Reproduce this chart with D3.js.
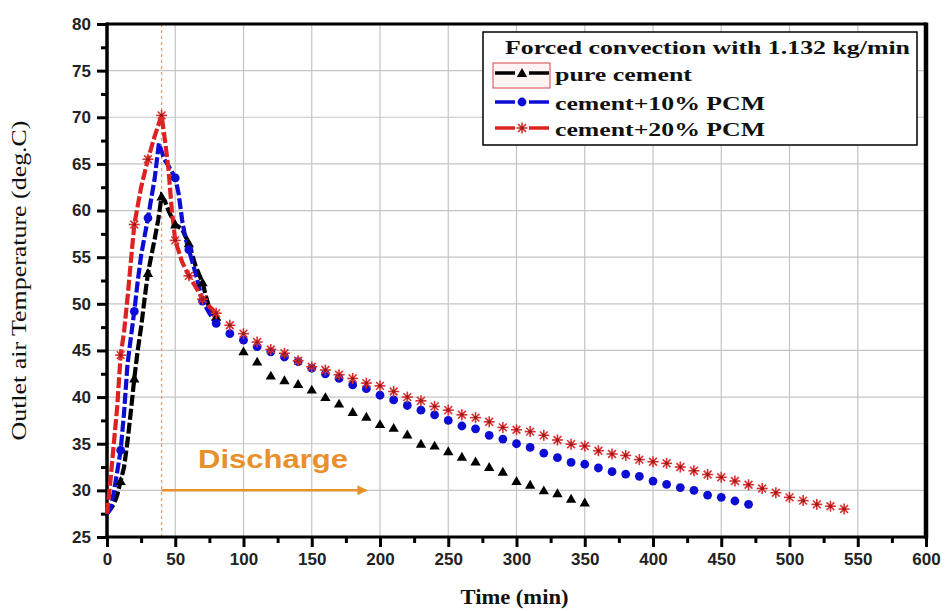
<!DOCTYPE html>
<html><head><meta charset="utf-8">
<script src="https://cdn.jsdelivr.net/npm/d3@7"></script>
<style>body{margin:0;background:#fff}</style>
</head><body>
<svg id="c" width="946" height="611"></svg>
<script>
// ---------- data ----------
const xTickValues = [0,50,100,150,200,250,300,350,400,450,500,550,600];
const xTickLabels = ["0","50","100","150","200","250","300","350","400","450","500","550","600"];
const yTickValues = [25,30,35,40,45,50,55,60,65,70,75,80];
const yTickLabels = ["25","30","35","40","45","50","55","60","65","70","75","80"];

const seriesNames = ["pure cement","cement+10% PCM","cement+20% PCM"];
const legendTitle = "Forced convection with 1.132 kg/min";

// charge / early part (drawn as thick dashed line)
const pureEarlyTime = [0,2.5,5,7.5,10,12.5,15,17.5,20,22.5,25,27.5,30,35,37.5,40,42.5,45,50,55,60,65,70,72.5,75,80];
const pureEarlyTemp = [27.5,28,28.5,29.5,31,32.5,35.2,38.5,42,45,47.5,50.5,53.3,57,59,61.5,61,60,58.5,58,56.5,54,52.3,50.8,49.5,48.6];
const blueEarlyTime = [0,2.5,5,7.5,10,12.5,15,17.5,20,22.5,25,30,35,38,42,45,50,52.5,55,57.5,60,65,70,75,80];
const blueEarlyTemp = [27.5,28,29.8,32,34.3,38.3,43.5,46.4,49.2,52.4,55.2,59.2,63.5,67.2,65.5,64.8,63.5,61.8,59,57,55.8,53.2,50.3,49,47.9];
const redEarlyTime = [0,2.5,5,7.5,10,12.5,15,20,25,30,35,40,42.5,45,47.5,50,55,60,65,70,75,80];
const redEarlyTemp = [27.5,31,35,39,44.5,47,50.6,58.5,62.5,65.5,68,70.2,67.5,64.5,60,56.8,54.5,53,51.8,50.5,49.7,49.0];

// discharge tail (markers only)
const pureLateTime = [100,110,120,130,140,150,160,170,180,190,200,210,220,230,240,250,260,270,280,290,300,310,320,330,340,350];
const pureLateTemp = [44.9,43.8,42.3,41.8,41.4,40.8,40.0,39.3,38.4,37.9,37.1,36.7,36.0,35.0,34.8,34.2,33.6,33.1,32.5,32.0,31.0,30.6,30.0,29.7,29.1,28.7];
const blueLateTime = [90,100,110,120,130,140,150,160,170,180,190,200,210,220,230,240,250,260,270,280,290,300,310,320,330,340,350,360,370,380,390,400,410,420,430,440,450,460,470];
const blueLateTemp = [46.8,46.1,45.4,44.85,44.3,43.8,43.1,42.5,42.0,41.3,40.9,40.2,39.7,39.1,38.6,38.1,37.5,36.9,36.6,35.9,35.5,35.0,34.6,34.0,33.5,33.0,32.8,32.4,32.0,31.75,31.5,31.0,30.65,30.3,30.0,29.5,29.25,28.86,28.5];
const redLateTime = [90,100,110,120,130,140,150,160,170,180,190,200,210,220,230,240,250,260,270,280,290,300,310,320,330,340,350,360,370,380,390,400,410,420,430,440,450,460,470,480,490,500,510,520,530,540];
const redLateTemp = [47.7,46.8,45.9,45.1,44.7,43.9,43.25,42.9,42.4,42.0,41.5,41.2,40.6,40.0,39.6,39.0,38.6,38.1,37.8,37.35,36.75,36.5,36.3,35.9,35.4,34.95,34.75,34.25,33.9,33.75,33.3,33.07,32.9,32.5,32.1,31.7,31.4,31.0,30.6,30.2,29.75,29.25,28.9,28.5,28.3,28.0];

const dischargeStart = 40, dischargeArrowEnd = 190, dischargeArrowTemp = 30;

// ---------- drawing ----------
const W = 946, H = 611;
const M = {left:107, right:20, top:24, bottom:74};
const svg = d3.select("#c");
const x = d3.scaleLinear().domain([0,600]).range([M.left, W - M.right]);
const y = d3.scaleLinear().domain([25,80]).range([H - M.bottom, M.top]);

const colors = {pure:"#000000", blue:"#0c0cd4", red:"#dd2222"};

// gridlines
const g = svg.append("g");
g.selectAll(".gx").data(xTickValues.slice(1,-1)).enter().append("line")
  .attr("x1", d=>x(d)).attr("x2", d=>x(d)).attr("y1", y(25)).attr("y2", y(80))
  .attr("stroke","#c4c4c4").attr("stroke-width",1.2);
g.selectAll(".gy").data(yTickValues.slice(1,-1)).enter().append("line")
  .attr("y1", d=>y(d)).attr("y2", d=>y(d)).attr("x1", x(0)).attr("x2", x(600))
  .attr("stroke","#c4c4c4").attr("stroke-width",1.2);

// discharge marker line
svg.append("line").attr("x1", x(dischargeStart)).attr("x2", x(dischargeStart))
  .attr("y1", y(80)).attr("y2", y(25))
  .attr("stroke","#e8a060").attr("stroke-width",1.3).attr("stroke-dasharray","3,3");

// axes
const xAxis = d3.axisBottom(x).tickValues(xTickValues).tickFormat((d,i)=>xTickLabels[i]).tickSize(10).tickPadding(6);
const xMinor = d3.axisBottom(x).tickValues(d3.range(25,600,50)).tickFormat("").tickSize(6);
const yAxis = d3.axisLeft(y).tickValues(yTickValues).tickFormat((d,i)=>yTickLabels[i]).tickSize(10).tickPadding(6);
const yMinor = d3.axisLeft(y).tickValues(d3.range(27.5,80,5)).tickFormat("").tickSize(6);

function styleAxis(sel){
  sel.select(".domain").remove();
  sel.selectAll(".tick line").attr("stroke","#000").attr("stroke-width",3);
  sel.selectAll("text").attr("font-family","Liberation Sans, Arial, sans-serif")
    .attr("font-weight","bold").attr("font-size",17).attr("fill","#222");
}
svg.append("g").attr("transform",`translate(0,${y(25)})`).call(xAxis).call(styleAxis);
svg.append("g").attr("transform",`translate(0,${y(25)})`).call(xMinor).call(styleAxis);
svg.append("g").attr("transform",`translate(${x(0)},0)`).call(yAxis).call(styleAxis);
svg.append("g").attr("transform",`translate(${x(0)},0)`).call(yMinor).call(styleAxis);

// frame
svg.append("line").attr("x1",x(0)).attr("x2",x(600)).attr("y1",y(80)).attr("y2",y(80)).attr("stroke","#000").attr("stroke-width",3);
svg.append("line").attr("x1",x(0)).attr("x2",x(600)).attr("y1",y(25)).attr("y2",y(25)).attr("stroke","#000").attr("stroke-width",3);
svg.append("line").attr("x1",x(0)).attr("x2",x(0)).attr("y1",y(80)-1.5).attr("y2",y(25)+1.5).attr("stroke","#000").attr("stroke-width",3.5);
svg.append("line").attr("x1",x(600)).attr("x2",x(600)).attr("y1",y(80)-1.5).attr("y2",y(25)+1.5).attr("stroke","#000").attr("stroke-width",4.5);

// markers
function triangle(sel, px, py){
  sel.append("path").attr("d", d3.symbol(d3.symbolTriangle, 46)()).attr("transform",`translate(${px},${py+1})`).attr("fill","#000");
}
function dot(sel, px, py){
  sel.append("circle").attr("cx",px).attr("cy",py).attr("r",4.4).attr("fill",colors.blue);
}
function star(sel, px, py){
  const r = 5.5;
  const gg = sel.append("g").attr("transform",`translate(${px},${py})`);
  [0,45,90,135].forEach(a=>{
    const c = Math.cos(a*Math.PI/180)*r, s = Math.sin(a*Math.PI/180)*r;
    gg.append("line").attr("x1",-c).attr("y1",-s).attr("x2",c).attr("y2",s)
      .attr("stroke","#d83030").attr("stroke-width",1.6);
  });
  gg.append("circle").attr("r",1.8).attr("fill","#a01818");
}

const line = d3.line().x(d=>x(d[0])).y(d=>y(d[1]));
const zip = (a,b)=>a.map((t,i)=>[t,b[i]]);

const series = [
  {early:zip(pureEarlyTime,pureEarlyTemp), late:zip(pureLateTime,pureLateTemp), color:colors.pure, mark:triangle},
  {early:zip(blueEarlyTime,blueEarlyTemp), late:zip(blueLateTime,blueLateTemp), color:colors.blue, mark:dot},
  {early:zip(redEarlyTime,redEarlyTemp), late:zip(redLateTime,redLateTemp), color:colors.red, mark:star}
];

const plot = svg.append("g");
series.forEach(s=>{
  plot.append("path").attr("d", line(s.early)).attr("fill","none")
    .attr("stroke", s.color).attr("stroke-width",4.2).attr("stroke-dasharray","11,3");
});
series.forEach(s=>{
  s.early.filter(d=>d[0]>0 && d[0]%10===0).forEach(d=>s.mark(plot, x(d[0]), y(d[1])));
  s.late.forEach(d=>s.mark(plot, x(d[0]), y(d[1])));
});

// discharge annotation
const orange = "#e8902c";
svg.append("defs").append("marker").attr("id","ah").attr("viewBox","0 0 10 10")
  .attr("refX",9).attr("refY",5).attr("markerWidth",5).attr("markerHeight",4).attr("orient","auto")
  .append("path").attr("d","M0,0 L10,5 L0,10 z").attr("fill",orange);
svg.append("line").attr("x1",x(dischargeStart)).attr("x2",x(dischargeArrowEnd))
  .attr("y1",y(dischargeArrowTemp)).attr("y2",y(dischargeArrowTemp))
  .attr("stroke",orange).attr("stroke-width",2.5).attr("marker-end","url(#ah)");
svg.append("text").attr("x",198).attr("y",468).text("Discharge")
  .attr("font-family","Liberation Sans, Arial, sans-serif").attr("font-weight","bold")
  .attr("font-size",25).attr("fill",orange).attr("textLength",150).attr("lengthAdjust","spacingAndGlyphs");

// legend
const lg = svg.append("g");
lg.append("rect").attr("x",483).attr("y",32).attr("width",434).attr("height",113)
  .attr("fill","#fff").attr("stroke","#000").attr("stroke-width",1.5);
lg.append("text").attr("x",505).attr("y",54).text(legendTitle)
  .attr("font-family","Liberation Serif, Times New Roman, serif").attr("font-weight","bold")
  .attr("font-size",19).attr("fill","#111").attr("textLength",405).attr("lengthAdjust","spacingAndGlyphs");
lg.append("rect").attr("x",493).attr("y",63).attr("width",57).attr("height",25)
  .attr("fill","#fff4f4").attr("stroke","#d04848").attr("stroke-width",1);
const legY = [73,102,128];
const legTextLen = [137,210,210];
series.forEach((s,i)=>{
  lg.append("line").attr("x1",495).attr("x2",515).attr("y1",legY[i]).attr("y2",legY[i]).attr("stroke",s.color).attr("stroke-width",3.5);
  lg.append("line").attr("x1",529).attr("x2",549).attr("y1",legY[i]).attr("y2",legY[i]).attr("stroke",s.color).attr("stroke-width",3.5);
  s.mark(lg, 522, legY[i]);
  lg.append("text").attr("x",555).attr("y",legY[i]+8).text(seriesNames[i])
    .attr("font-family","Liberation Serif, Times New Roman, serif").attr("font-weight","bold")
    .attr("font-size",19).attr("fill","#111").attr("textLength",legTextLen[i]).attr("lengthAdjust","spacingAndGlyphs");
});

// axis titles
svg.append("text").attr("x", (x(0)+x(600))/2 - 2).attr("y", 604).attr("text-anchor","middle")
  .text("Time (min)").attr("font-family","Liberation Serif, Times New Roman, serif")
  .attr("font-weight","bold").attr("font-size",20).attr("fill","#111")
  .attr("textLength",108).attr("lengthAdjust","spacingAndGlyphs");
svg.append("text").attr("transform",`translate(26,${(y(25)+y(80))/2}) rotate(-90)`).attr("text-anchor","middle")
  .text("Outlet air Temperature (deg.C)").attr("font-family","Liberation Serif, Times New Roman, serif")
  .attr("font-size",22).attr("fill","#111").attr("textLength",320).attr("lengthAdjust","spacingAndGlyphs");
</script>
</body></html>
